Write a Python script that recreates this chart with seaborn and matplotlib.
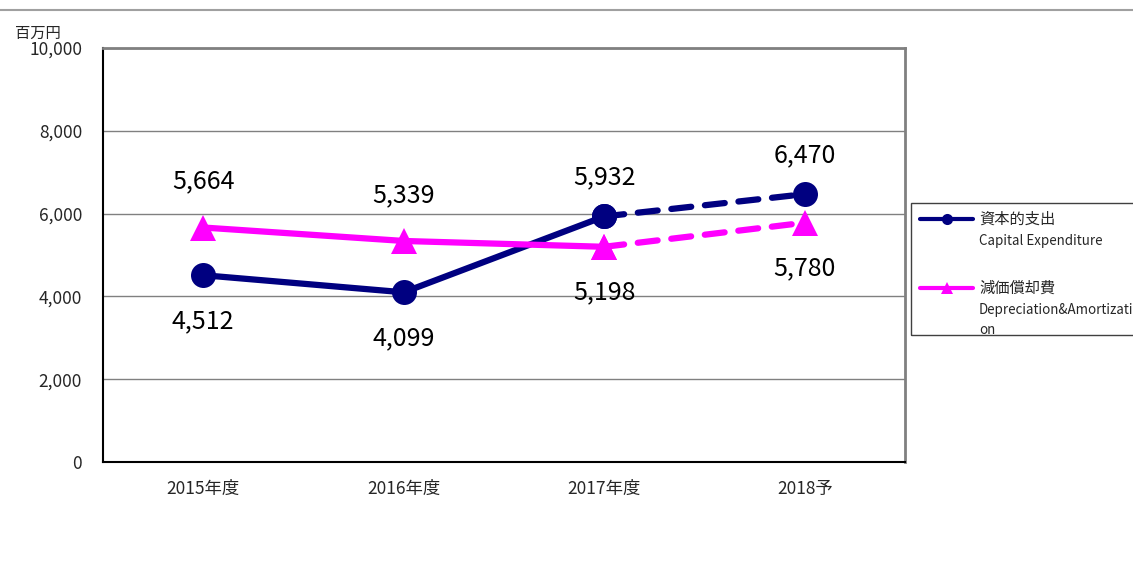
import pandas as pd
import numpy as np
import matplotlib
matplotlib.use("Agg")
import matplotlib.pyplot as plt
import seaborn as sns
from matplotlib.lines import Line2D
from matplotlib.patches import Rectangle
from matplotlib.ticker import FuncFormatter

years = ["2015年度", "2016年度", "2017年度", "2018予"]
capex = [4512, 4099, 5932, 6470]
depre = [5664, 5339, 5198, 5780]
# where each value label sits relative to its point
capex_pos = ["below", "below", "above", "above"]
depre_pos = ["above", "above", "below", "below"]

NAVY = "#000080"
MAGENTA = "#FF00FF"

sns.set_style("white")
plt.rcParams["font.family"] = ["Noto Sans CJK JP", "DejaVu Sans"]

df = pd.DataFrame({"year": years, "capex": capex, "depre": depre})
actual = df.iloc[:3]
plan = df.iloc[2:]

fig = plt.figure(figsize=(11.33, 5.61), dpi=100)
ax = fig.add_axes([103 / 1133, 1 - 462 / 561, (905 - 103) / 1133, (462 - 48) / 561])

# solid = actual, dashed = forecast
for col, color, marker, ms in [("capex", NAVY, "o", 18), ("depre", MAGENTA, "^", 19)]:
    sns.lineplot(data=actual, x="year", y=col, sort=False, ax=ax, color=color,
                 lw=4.5, marker=marker, markersize=ms, markeredgewidth=0,
                 solid_capstyle="round")
    sns.lineplot(data=plan, x="year", y=col, sort=False, ax=ax, color=color,
                 lw=4.5, marker=marker, markersize=ms, markeredgewidth=0,
                 linestyle=(0, (3.2, 2.2)), dash_capstyle="round")

for series, pos, up, down in [(capex, capex_pos, 28, -33), (depre, depre_pos, 33, -33)]:
    for i, (v, p) in enumerate(zip(series, pos)):
        dy = up if p == "above" else down
        ax.annotate(f"{v:,}", (i, v), xytext=(0, dy), textcoords="offset points",
                    ha="center", va="center", fontsize=18, color="black")

ax.set_xlim(-0.5, 3.5)
ax.set_ylim(0, 10000)
ax.set_yticks(np.arange(0, 10001, 2000))
ax.yaxis.set_major_formatter(FuncFormatter(lambda v, _: f"{int(v):,}"))
ax.set_xticks(range(len(years)))
ax.set_xticklabels(years)
ax.set_xticks([0.5, 1.5, 2.5], minor=True)
ax.tick_params(axis="x", which="major", length=0, labelsize=12.5, pad=13)
ax.tick_params(axis="x", which="minor", length=5, direction="in", color="#808080")
ax.tick_params(axis="y", length=0, labelsize=12.5, pad=15)
ax.set_xlabel("")
ax.set_ylabel("")
ax.grid(axis="y", color="#808080", lw=1)
ax.set_axisbelow(True)

for s in ["left", "bottom"]:
    ax.spines[s].set_color("black")
    ax.spines[s].set_linewidth(1.5)
for s in ["top", "right"]:
    ax.spines[s].set_color("#808080")
    ax.spines[s].set_linewidth(2)

# unit label and top rule
fig.text(15 / 1133, 1 - 33 / 561, "百万円", fontsize=11, va="center", ha="left")
fig.add_artist(Line2D([0, 1], [1 - 10 / 561] * 2, color="#a0a0a0", lw=1.5))

# legend box
fig.patches.append(Rectangle((911 / 1133, 1 - 335 / 561), 300 / 1133, 132 / 561,
                             transform=fig.transFigure, fill=False,
                             edgecolor="#404040", lw=1))
entries = [(NAVY, "o", 219, ["資本的支出", "Capital Expenditure"]),
           (MAGENTA, "^", 288, ["減価償却費", "Depreciation&Amortizati", "on"])]
for color, marker, yy, lines in entries:
    fy = 1 - yy / 561
    fig.add_artist(Line2D([920 / 1133, 973 / 1133], [fy, fy], color=color, lw=3))
    fig.add_artist(Line2D([947 / 1133], [fy], color=color, marker=marker,
                          markersize=8, markeredgewidth=0))
    fig.text(979 / 1133, fy, lines[0], fontsize=11, va="center")
    for k, t in enumerate(lines[1:]):
        fig.text(979 / 1133, 1 - (yy + 22 + 20 * k) / 561, t, fontsize=9.6, va="center")

fig.savefig("out.png", dpi=100)
